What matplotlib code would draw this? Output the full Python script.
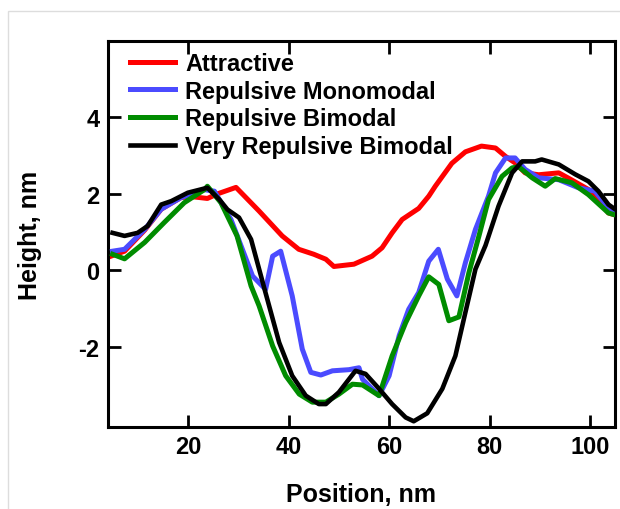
import matplotlib
matplotlib.use("Agg")
import matplotlib.pyplot as plt
from matplotlib.patches import Rectangle

plt.rcParams['font.family'] = ['Liberation Sans', 'DejaVu Sans']
plt.rcParams['font.weight'] = 'bold'
plt.rcParams['axes.unicode_minus'] = False

labels = ["Attractive", "Repulsive Monomodal", "Repulsive Bimodal", "Very Repulsive Bimodal"]
colors = ["#ff0000", "#4b4bff", "#008c00", "#000000"]

x_attr = [4.6, 7.3, 11.3, 14.6, 18.5, 20.5, 23.8, 25.8, 29.5, 34.1, 38.7, 42.0, 45.0, 47.4, 49.0,
          53.0, 56.6, 58.6, 60.6, 62.6, 65.9, 67.9, 69.2, 72.5, 75.2, 78.4, 81.2, 83.2, 85.1,
          87.1, 89.8, 93.8, 96.3, 100.3, 103.7, 105.0]
y_attr = [0.37, 0.5, 1.05, 1.6, 1.9, 1.93, 1.88, 2.0, 2.17, 1.55, 0.9, 0.55, 0.42, 0.29, 0.1,
          0.16, 0.37, 0.59, 0.98, 1.33, 1.62, 1.94, 2.2, 2.8, 3.1, 3.25, 3.2, 2.98, 2.81,
          2.55, 2.5, 2.55, 2.37, 2.07, 1.5, 1.45]

x_mono = [4.9, 7.3, 11.3, 14.6, 18.5, 23.2, 25.2, 28.5, 32.8, 35.4, 36.8, 38.4, 40.7, 42.7, 44.4,
          46.4, 48.7, 52.0, 54.0, 54.7, 58.0, 60.0, 62.0, 63.9, 65.9, 67.9, 69.8, 71.6, 73.5,
          75.2, 77.2, 79.8, 81.2, 83.2, 85.1, 87.1, 89.8, 93.8, 97.7, 101.0, 103.7, 105.0]
y_mono = [0.5, 0.55, 1.07, 1.6, 1.9, 2.11, 2.07, 1.33, -0.15, -0.5, 0.37, 0.5, -0.67, -2.06, -2.67,
          -2.74, -2.63, -2.6, -2.55, -2.85, -3.28, -2.76, -1.71, -1.02, -0.58, 0.24, 0.55, -0.23, -0.67,
          0.2, 1.07, 1.94, 2.55, 2.94, 2.94, 2.64, 2.42, 2.37, 2.16, 2.07, 1.64, 1.55]

x_bi = [4.9, 7.3, 11.3, 15.2, 19.2, 23.2, 23.8, 26.5, 29.7, 32.5, 34.1, 36.8, 39.4, 42.1, 44.7,
        47.4, 50.0, 52.7, 54.7, 58.0, 60.6, 63.3, 65.9, 67.9, 69.9, 71.9, 73.9, 75.9, 77.9,
        79.8, 82.5, 84.5, 85.8, 88.5, 91.1, 93.1, 96.4, 99.7, 103.7, 105.0]
y_bi = [0.42, 0.3, 0.73, 1.25, 1.77, 2.11, 2.2, 1.77, 0.9, -0.41, -0.93, -1.98, -2.76, -3.24, -3.45,
        -3.45, -3.24, -2.98, -3.0, -3.28, -2.24, -1.37, -0.67, -0.17, -0.37, -1.32, -1.22, -0.06, 0.9,
        1.85, 2.46, 2.68, 2.71, 2.42, 2.2, 2.4, 2.29, 1.98, 1.5, 1.45]

x_very = [4.9, 7.3, 9.9, 11.9, 14.6, 16.6, 19.9, 23.8, 26.2, 27.8, 30.1, 32.5, 35.2, 38.1, 40.7,
          43.4, 46.0, 47.4, 50.0, 53.3, 55.3, 58.0, 60.6, 63.3, 64.9, 67.6, 70.6, 73.2, 75.2,
          77.2, 79.2, 81.8, 84.5, 86.5, 89.1, 90.4, 93.8, 97.1, 99.7, 101.7, 103.7, 105.0]
y_very = [0.98, 0.9, 0.98, 1.16, 1.72, 1.81, 2.03, 2.16, 1.85, 1.59, 1.38, 0.81, -0.5, -1.89, -2.76,
          -3.28, -3.5, -3.5, -3.19, -2.63, -2.71, -3.1, -3.5, -3.85, -3.95, -3.74, -3.1, -2.24, -1.1,
          0.03, 0.65, 1.68, 2.55, 2.85, 2.85, 2.9, 2.77, 2.51, 2.33, 2.07, 1.72, 1.6]

x_ticks = [20, 40, 60, 80, 100]
y_ticks = [-2, 0, 2, 4]

fig = plt.figure(figsize=(6.2, 5.1), dpi=100)
fig.patches.append(Rectangle((8 / 620, -0.01), 1.0, 1 - 12 / 510 + 0.01, transform=fig.transFigure,
                             fill=False, edgecolor="#dddddd", linewidth=1.0))
ax = fig.add_axes([108 / 620, 82 / 510, 507 / 620, 386 / 510])

series = [(x_attr, y_attr), (x_mono, y_mono), (x_bi, y_bi), (x_very, y_very)]
widths = [3.6, 3.6, 3.6, 3.3]
for i, ((xs, ys), lab, c, lw) in enumerate(zip(series, labels, colors, widths)):
    ax.plot(xs, ys, color=c, lw=lw, label=lab, zorder=2 + i, solid_joinstyle='round')

ax.set_xlim(4, 105)
ax.set_ylim(-4.1, 6)
ax.set_xticks(x_ticks)
ax.set_yticks(y_ticks)
ax.tick_params(direction='in', length=9, width=2, top=True, right=True,
               labelsize=17, pad=6)
for lab in ax.get_xticklabels() + ax.get_yticklabels():
    lab.set_fontweight('bold')
for s in ax.spines.values():
    s.set_linewidth(2.2)

ax.set_xlabel("Position, nm", fontsize=18, fontweight='bold', labelpad=17)
ax.set_ylabel("Height, nm", fontsize=18, fontweight='bold', labelpad=26)

leg = ax.legend(loc='upper left', bbox_to_anchor=(0.043, 0.972), frameon=False,
                handlelength=1.9, handletextpad=0.45, labelspacing=0.2,
                borderaxespad=0.0, borderpad=0.0, prop={'weight': 'bold', 'size': 17})

fig.savefig("out.png", dpi=100)
